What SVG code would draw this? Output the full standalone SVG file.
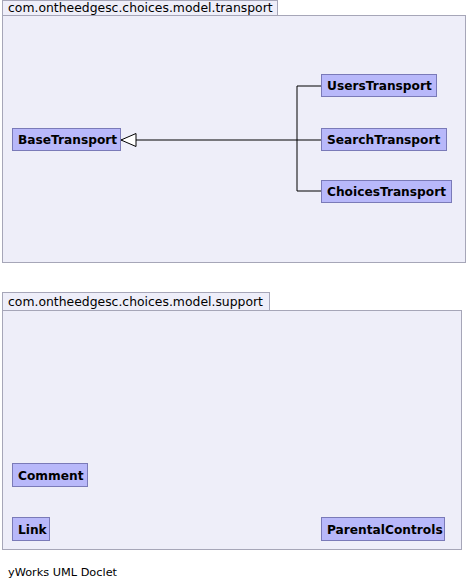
<svg xmlns="http://www.w3.org/2000/svg" width="470" height="587" viewBox="0 0 470 587">
<defs>
<style>
.pkg{fill:#eeeef9;stroke:#a6a6b8;stroke-width:1}
.pkgt{font-family:"DejaVu Sans","Liberation Sans",sans-serif;font-size:12.4px;fill:#000}
.cls{fill:#b8b8fa;stroke:#7a7ab8;stroke-width:1}
.clt{font-family:"DejaVu Sans","Liberation Sans",sans-serif;font-size:12.2px;font-weight:bold;fill:#000}
.edge{fill:none;stroke:#000;stroke-width:1}
.foot{font-family:"DejaVu Sans","Liberation Sans",sans-serif;font-size:11.3px;fill:#000}
</style>
<marker id="inh" viewBox="0 0 16 14" refX="15.5" refY="7" markerWidth="16" markerHeight="14" markerUnits="userSpaceOnUse" orient="auto">
<path d="M15.5,7 L0.5,0.5 L0.5,13.5 Z" fill="#fff" stroke="#000" stroke-width="1"/>
</marker>
</defs>
<rect width="470" height="587" fill="#fff"/>
<g id="pkg-transport">
<rect class="pkg" x="2.5" y="0.5" width="275" height="15"/>
<rect class="pkg" x="2.5" y="15.5" width="463" height="247"/>
<text class="pkgt" x="8" y="12">com.ontheedgesc.choices.model.transport</text>
</g>
<g id="pkg-support">
<rect class="pkg" x="2.5" y="292.5" width="267" height="18"/>
<rect class="pkg" x="2.5" y="310.5" width="459" height="239"/>
<text class="pkgt" x="8" y="306">com.ontheedgesc.choices.model.support</text>
</g>
<g id="connectors">
<path class="edge" d="M321,86 H297 V191 H321"/>
<path class="edge" d="M321,140 H121" marker-end="url(#inh)"/>
</g>
<g id="BaseTransport">
<rect class="cls" x="12.5" y="128.5" width="108" height="22"/>
<text class="clt" x="18" y="144">BaseTransport</text>
</g>
<g id="UsersTransport">
<rect class="cls" x="321.5" y="74.5" width="115" height="22"/>
<text class="clt" x="327" y="90">UsersTransport</text>
</g>
<g id="SearchTransport">
<rect class="cls" x="321.5" y="128.5" width="125" height="22"/>
<text class="clt" x="327" y="144">SearchTransport</text>
</g>
<g id="ChoicesTransport">
<rect class="cls" x="321.5" y="180.5" width="130" height="22"/>
<text class="clt" x="327" y="196">ChoicesTransport</text>
</g>
<g id="Comment">
<rect class="cls" x="12.5" y="463.5" width="75" height="23"/>
<text class="clt" x="18" y="480">Comment</text>
</g>
<g id="Link">
<rect class="cls" x="12.5" y="517.5" width="37" height="23"/>
<text class="clt" x="18" y="534">Link</text>
</g>
<g id="ParentalControls">
<rect class="cls" x="321.5" y="517.5" width="123" height="23"/>
<text class="clt" x="327" y="534">ParentalControls</text>
</g>
<text class="foot" x="8" y="576">yWorks UML Doclet</text>
</svg>
